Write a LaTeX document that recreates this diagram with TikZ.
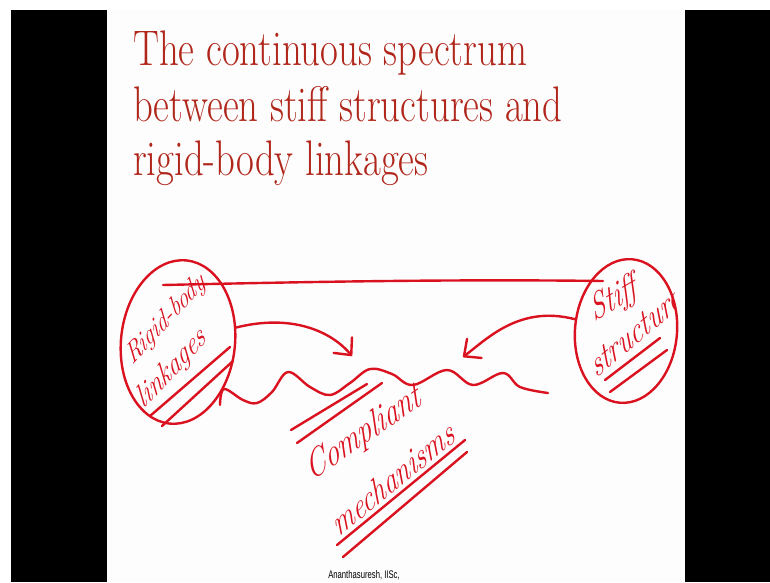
\documentclass[tikz,border=0pt]{standalone}
\usepackage{fontspec}
\newfontfamily\footfont{Liberation Sans}
\usetikzlibrary{positioning, calc, shapes.geometric, arrows.meta}
\definecolor{titlered}{RGB}{176,38,26}
\definecolor{ink}{RGB}{218,18,32}
\definecolor{slidebg}{RGB}{253,253,253}

\begin{document}
\begin{tikzpicture}[
        x=1pt, y=-1pt,
        title/.style={anchor=base west, inner sep=0, text=titlered, font=\fontsize{50}{55}\selectfont, xscale=0.775, transform shape},
        hand/.style={inner sep=0, text=ink, font=\fontsize{34}{34}\selectfont\itshape, xscale=0.7, transform shape},
        ring/.style={ellipse, draw=ink, line width=2.4pt, inner sep=0},
        stroke/.style={draw=ink, line width=2.4pt, line cap=round, line join=round},
        barb/.style={-{Straight Barb[length=13pt, width=24pt, round]}}
    ]
        \useasboundingbox (0,0) rectangle (770,582);
        \fill[white] (0,0) rectangle (770,582);
        \fill[slidebg] (107,10) rectangle (685,582);

        % Title
        \node[title] (T1) at (133,65) {The continuous spectrum};
        \node[title] (T2) at (133,121) {between stiff structures and};
        \node[title] (T3) at (133,175) {rigid-body linkages};

        % Circled ends of the spectrum
        \node[ring, minimum width=114, minimum height=164, rotate=-6] (rigid) at (178,342) {};
        \node[ring, minimum width=102, minimum height=144, rotate=-5] (stiff) at (626,331) {};

        \node[hand, font=\fontsize{30}{30}\selectfont\itshape, rotate=37] (RB) at (166,320) {Rigid-body};
        \node[hand, rotate=37] (LK) at (172,369) {linkages};
        \node[hand, font=\fontsize{38}{38}\selectfont\itshape, rotate=22] (SF) at (614,300) {Stiff};
        \begin{scope}
            \clip (107,10) rectangle (674,582);
            \node[hand, font=\fontsize{38}{38}\selectfont\itshape, rotate=30, anchor=west] (ST) at (592,368) {structures};
        \end{scope}

        \node[hand, font=\fontsize{40}{40}\selectfont\itshape, rotate=26] (CP) at (364,434) {Compliant};
        \node[hand, font=\fontsize{38}{38}\selectfont\itshape, rotate=30] (MC) at (393,478) {mechanisms};

        % Spectrum line
        \coordinate (specL) at (163,285);
        \coordinate (specR) at (603,281);
        \draw[stroke] (specL) .. controls (300,282) and (450,279) .. (specR);

        % Arrows towards the middle
        \coordinate (tipL) at (352,356);
        \coordinate (tipR) at (463,357);
        \draw[stroke, barb] (rigid.20) .. controls (290,314) and (330,330) .. (tipL);
        \draw[stroke, barb] (stiff.172) .. controls (520,305) and (488,338) .. (tipR);

        % Wavy middle
        \draw[stroke] plot[smooth, tension=0.6] coordinates {(220,405) (224,389) (243,400) (257,403) (272,392) (288,372) (310,387) (330,395) (350,383) (370,369) (392,374) (413,385) (447,370) (473,385) (503,373) (520,387) (548,393)};

        % Underlines
        \draw[stroke] (150,416) -- (230,347);
        \draw[stroke] (162,426) -- (233,361);
        \draw[stroke] (605,380) -- (660,338);
        \draw[stroke] (610,392) -- (667,350);
        \draw[stroke] (291,430) -- (367,384);
        \draw[stroke] (297,443) -- (382,383);
        \draw[stroke] (337,545) -- (465,440);
        \draw[stroke] (343,557) -- (467,452);

        % Footer
        \node[inner sep=0, font=\footfont\fontsize{11}{11}\selectfont, xscale=0.7, transform shape] (foot) at (364,575) {Ananthasuresh, IISc,};

        % Black side bars
        \fill[black] (11,10) rectangle (107,582);
        \fill[black] (685,10) rectangle (770,582);
    \end{tikzpicture}
\end{document}
